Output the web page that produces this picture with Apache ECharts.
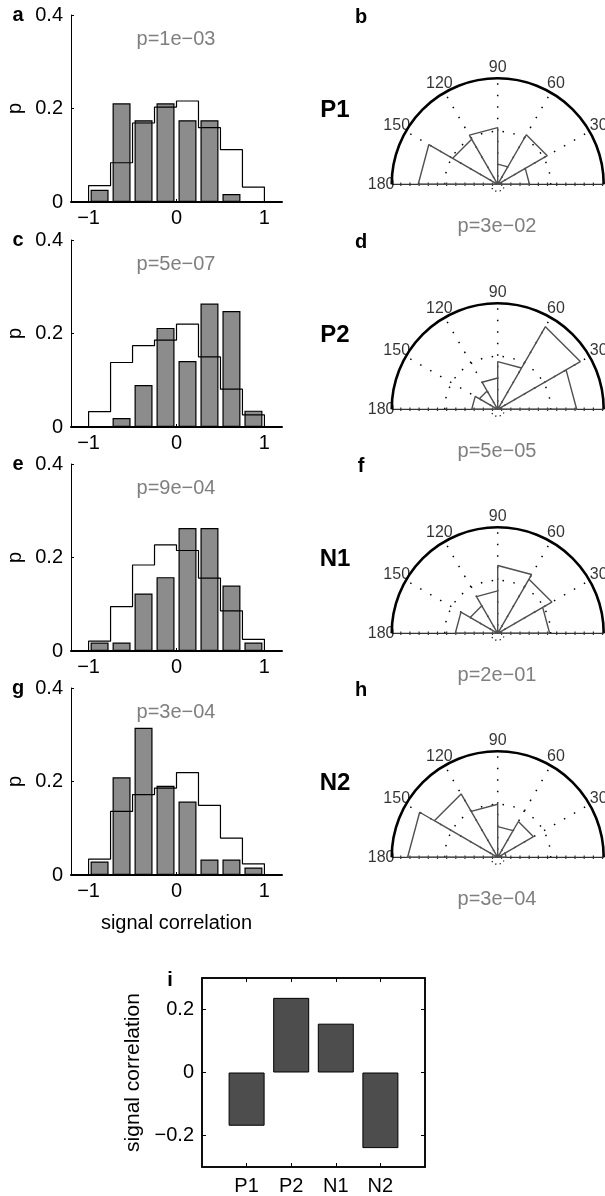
<!DOCTYPE html>
<html>
<head>
<meta charset="utf-8">
<script src="https://cdn.jsdelivr.net/npm/echarts@6/dist/echarts.min.js"></script>
<style>
  html, body { margin: 0; padding: 0; background: #fff; }
  #chart { width: 605px; height: 1196px; }
</style>
</head>
<body>
<div id="chart"></div>
<script>
const FONT = '"Liberation Sans", Arial, Helvetica, sans-serif';
const MINUS = '\u2212';

// histogram bins of signal correlation
const binEdges = [-1, -0.75, -0.5, -0.25, 0, 0.25, 0.5, 0.75, 1];
const binCenters = [-0.875, -0.625, -0.375, -0.125, 0.125, 0.375, 0.625, 0.875];
const histXTicks = [-1, 0, 1];

// grey bars (observed) and black outline (reference) per group
const barsP1 = [0.026, 0.211, 0.175, 0.211, 0.175, 0.175, 0.017, 0];
const lineP1 = [0.035, 0.084, 0.169, 0.203, 0.216, 0.159, 0.112, 0.032];
const barsP2 = [0, 0.019, 0.09, 0.212, 0.141, 0.264, 0.248, 0.035];
const lineP2 = [0.033, 0.138, 0.174, 0.186, 0.22, 0.15, 0.081, 0.026];
const barsN1 = [0.018, 0.018, 0.123, 0.158, 0.263, 0.263, 0.14, 0.018];
const lineN1 = [0.021, 0.095, 0.184, 0.227, 0.215, 0.156, 0.086, 0.025];
const barsN2 = [0.029, 0.209, 0.315, 0.191, 0.157, 0.033, 0.033, 0.016];
const lineN2 = [0.034, 0.136, 0.172, 0.186, 0.219, 0.149, 0.079, 0.024];

// rose plots: 30 degree bins, radius relative to outer circle
const roseEdges = [0, 30, 60, 90, 120, 150, 180];
const roseP1 = [0.30, 0.54, 0.19, 0.535, 0.49, 0.75];
const roseP2 = [0.745, 0.90, 0.45, 0.295, 0.20, 0.245];
const roseN1 = [0.49, 0.59, 0.64, 0.40, 0.30, 0.40];
const roseN2 = [0.08, 0.39, 0.29, 0.50, 0.69, 0.85];
const spokeAngles = [30, 60, 90, 120, 150];
const angleLabels = [30, 60, 90, 120, 150, 180];

// panel i
const groups = ['P1', 'P2', 'N1', 'N2'];
const meanCorr = [-0.169, 0.237, 0.155, -0.24];
const meanTicks = [-0.2, 0, 0.2];

const histLetters = ['a', 'c', 'e', 'g'];
const roseLetters = ['b', 'd', 'f', 'h'];
const histPText = ['p=1e' + MINUS + '03', 'p=5e' + MINUS + '07', 'p=9e' + MINUS + '04', 'p=3e' + MINUS + '04'];
const rosePText = ['p=3e' + MINUS + '02', 'p=5e' + MINUS + '05', 'p=2e' + MINUS + '01', 'p=3e' + MINUS + '04'];

const allBars = [barsP1, barsP2, barsN1, barsN2];
const allLines = [lineP1, lineP2, lineN1, lineN2];
const allRose = [roseP1, roseP2, roseN1, roseN2];

// layout
const HIST_LEFT = 71, HIST_W = 211, HIST_H = 187;
const ROW_TOP = [15, 240, 464, 688];
const ROSE_CX = 497.7, ROSE_R = 106;
const ROSE_CY = ROW_TOP.map(t => t + 169.3);

function fmtNum(v) {
  if (v === 0) return '0';
  const s = Math.abs(v) < 1 && Math.abs(v) > 0 ? Math.abs(v).toFixed(1) : String(Math.abs(v));
  return (v < 0 ? MINUS : '') + s;
}

function txt(text, x, y, size, opts) {
  opts = opts || {};
  const weight = opts.bold ? 'bold' : 'normal';
  return {
    type: 'text',
    silent: true,
    z: 10,
    style: {
      text: text, x: x, y: y,
      fill: opts.color || '#000',
      font: weight + ' ' + size + 'px ' + FONT,
      fontSize: size, fontWeight: weight, fontFamily: FONT,
      align: 'center', verticalAlign: 'middle',
      textAlign: 'center', textVerticalAlign: 'middle'
    }
  };
}

const grid = [], xAxis = [], yAxis = [], series = [], graphic = [];
const polar = [], angleAxis = [], radiusAxis = [];

for (let k = 0; k < 4; k++) {
  const top = ROW_TOP[k];
  grid.push({ left: HIST_LEFT, top: top, width: HIST_W, height: HIST_H, outerBoundsMode: 'none' });
  xAxis.push({
    type: 'value', gridIndex: k, min: -1.2, max: 1.2,
    axisLine: { show: true, onZero: false, lineStyle: { color: '#000', width: 2 } },
    axisTick: { show: true, inside: true, length: 3, customValues: histXTicks, lineStyle: { color: '#000' } },
    axisLabel: { customValues: histXTicks, formatter: fmtNum, color: '#000', fontSize: 20, fontFamily: FONT, margin: 6 },
    splitLine: { show: false },
    name: k === 3 ? 'signal correlation' : '',
    nameLocation: 'middle', nameGap: 38,
    nameTextStyle: { color: '#000', fontSize: 20, fontFamily: FONT }
  });
  yAxis.push({
    type: 'value', gridIndex: k, min: 0, max: 0.4, interval: 0.2,
    axisLine: { show: true, onZero: false, lineStyle: { color: '#000', width: 1 } },
    axisTick: { show: true, inside: true, length: 3, lineStyle: { color: '#000' } },
    axisLabel: { formatter: fmtNum, color: '#000', fontSize: 20, fontFamily: FONT, margin: 8, showMinLabel: true, showMaxLabel: true },
    splitLine: { show: false },
    name: 'p', nameLocation: 'middle', nameRotate: 90, nameGap: 46,
    nameTextStyle: { color: '#000', fontSize: 20, fontFamily: FONT }
  });

  const bars = allBars[k];
  series.push({
    type: 'bar', xAxisIndex: k, yAxisIndex: k, silent: true,
    data: binCenters.map((c, j) => [c, bars[j]]),
    barWidth: 18,
    itemStyle: { color: '#8c8c8c', borderColor: '#000', borderWidth: 1.2 },
    z: 2
  });
  const ref = allLines[k];
  const stairs = [[binEdges[0], 0]];
  ref.forEach((v, j) => { stairs.push([binEdges[j], v], [binEdges[j + 1], v]); });
  stairs.push([binEdges[binEdges.length - 1], 0]);
  series.push({
    type: 'line', xAxisIndex: k, yAxisIndex: k, silent: true,
    data: stairs, symbol: 'none', showSymbol: false, clip: false,
    lineStyle: { color: '#000', width: 1.2 }, z: 3
  });

  graphic.push(txt(histLetters[k], 18, top, 20, { bold: true }));
  graphic.push(txt(histPText[k], 176, top + 24, 20, { color: '#7f7f7f' }));

  // rose plot
  const cy = ROSE_CY[k];
  polar.push({ center: [ROSE_CX, cy], radius: ROSE_R });
  angleAxis.push({ polarIndex: k, type: 'value', min: 0, max: 360, startAngle: 0, clockwise: false, show: false });
  radiusAxis.push({ polarIndex: k, type: 'value', min: 0, max: 1, show: false });

  spokeAngles.forEach(a => {
    series.push({
      type: 'line', coordinateSystem: 'polar', polarIndex: k, silent: true,
      data: [[0, a], [1, a]], symbol: 'none', clip: false,
      lineStyle: { color: '#000', width: 1.5, type: [1.5, 10], dashOffset: 4 }, z: 1
    });
  });

  const rose = allRose[k];
  const pts = [];
  rose.forEach((r, j) => {
    pts.push([0, roseEdges[j]], [r, roseEdges[j]], [r, roseEdges[j + 1]], [0, roseEdges[j + 1]]);
  });
  series.push({
    type: 'line', coordinateSystem: 'polar', polarIndex: k, silent: true,
    data: pts, symbol: 'none', clip: false,
    lineStyle: { color: '#505050', width: 1.4 }, z: 4
  });

  series.push({
    type: 'scatter', coordinateSystem: 'polar', polarIndex: k, silent: true,
    data: angleLabels.map(a => [1.1, a]), symbolSize: 1, clip: false,
    itemStyle: { color: 'rgba(0,0,0,0)' },
    label: { show: true, position: 'inside', formatter: p => String(p.value[1]), color: '#000', fontSize: 16, fontFamily: FONT },
    z: 5
  });

  // frame: outer semicircle, dotted inner circle, baseline
  graphic.push({
    type: 'arc', silent: true, z: 1,
    shape: { cx: ROSE_CX, cy: cy, r: ROSE_R, startAngle: Math.PI, endAngle: 2 * Math.PI },
    style: { stroke: '#000', lineWidth: 2.6, fill: 'none' }
  });
  graphic.push({
    type: 'arc', silent: true, z: 1,
    shape: { cx: ROSE_CX, cy: cy, r: ROSE_R * 0.5, startAngle: Math.PI, endAngle: 2 * Math.PI },
    style: { stroke: '#000', lineWidth: 1.5, fill: 'none', lineDash: [1.5, 9.5] }
  });
  graphic.push({
    type: 'arc', silent: true, z: 1,
    shape: { cx: ROSE_CX, cy: cy, r: 7, startAngle: 0.15 * Math.PI, endAngle: 0.85 * Math.PI },
    style: { stroke: '#000', lineWidth: 1.2, fill: 'none', lineDash: [1.2, 3.2] }
  });
  graphic.push({
    type: 'line', silent: true, z: 1,
    shape: { x1: ROSE_CX - ROSE_R, y1: cy, x2: ROSE_CX + ROSE_R, y2: cy },
    style: { stroke: '#333', lineWidth: 1.3 }
  });
  graphic.push({
    type: 'line', silent: true, z: 1,
    shape: { x1: ROSE_CX - ROSE_R + 8.5, y1: cy, x2: ROSE_CX + ROSE_R, y2: cy },
    style: { stroke: '#333', lineWidth: 3.5, lineDash: [1.2, 7.97] }
  });

  graphic.push(txt(roseLetters[k], 361, top + 2, 20, { bold: true }));
  graphic.push(txt(groups[k], 335, cy - 73.5, 24, { bold: true }));
  graphic.push(txt(rosePText[k], 497, cy + 42, 20, { color: '#7f7f7f' }));
}

// panel i: mean signal correlation per group
grid.push({ left: 202, top: 978, width: 223, height: 189, show: true, borderColor: '#000', borderWidth: 1.5, outerBoundsMode: 'none' });
const catTicks = groups.map((g, j) => j + 1);
xAxis.push({
  type: 'value', gridIndex: 4, min: 0, max: 5, position: 'bottom',
  axisLine: { show: true, onZero: false, lineStyle: { color: '#000', width: 1.5 } },
  axisTick: { show: true, inside: true, length: 4, customValues: catTicks, lineStyle: { color: '#000' } },
  axisLabel: { customValues: catTicks, formatter: v => groups[v - 1] || '', color: '#000', fontSize: 20, fontFamily: FONT, margin: 9 },
  splitLine: { show: false }
});
xAxis.push({
  type: 'value', gridIndex: 4, min: 0, max: 5, position: 'top',
  axisLine: { show: true, onZero: false, lineStyle: { color: '#000', width: 1.5 } },
  axisTick: { show: true, inside: true, length: 4, customValues: catTicks, lineStyle: { color: '#000' } },
  axisLabel: { show: false }, splitLine: { show: false }
});
yAxis.push({
  type: 'value', gridIndex: 4, min: -0.3, max: 0.3, position: 'left',
  axisLine: { show: true, onZero: false, lineStyle: { color: '#000', width: 1.5 } },
  axisTick: { show: true, inside: true, length: 4, customValues: meanTicks, lineStyle: { color: '#000' } },
  axisLabel: { customValues: meanTicks, formatter: fmtNum, color: '#000', fontSize: 20, fontFamily: FONT, margin: 8 },
  splitLine: { show: false },
  name: 'signal correlation', nameLocation: 'middle', nameRotate: 90, nameGap: 58,
  nameTextStyle: { color: '#000', fontSize: 21, fontFamily: FONT }
});
yAxis.push({
  type: 'value', gridIndex: 4, min: -0.3, max: 0.3, position: 'right',
  axisLine: { show: true, onZero: false, lineStyle: { color: '#000', width: 1.5 } },
  axisTick: { show: true, inside: true, length: 4, customValues: meanTicks, lineStyle: { color: '#000' } },
  axisLabel: { show: false }, splitLine: { show: false }
});
series.push({
  type: 'bar', xAxisIndex: 4, yAxisIndex: 4, silent: true,
  data: meanCorr.map((v, j) => [j + 1, v]),
  barWidth: 36,
  itemStyle: { color: '#4d4d4d', borderColor: '#000', borderWidth: 1 }
});
graphic.push(txt('i', 170, 980, 20, { bold: true }));

const chart = echarts.init(document.getElementById('chart'), null, { renderer: 'canvas' });
chart.setOption({
  animation: false,
  backgroundColor: '#fff',
  textStyle: { fontFamily: FONT },
  grid: grid, xAxis: xAxis, yAxis: yAxis,
  polar: polar, angleAxis: angleAxis, radiusAxis: radiusAxis,
  series: series,
  graphic: { elements: graphic }
});
</script>
</body>
</html>
